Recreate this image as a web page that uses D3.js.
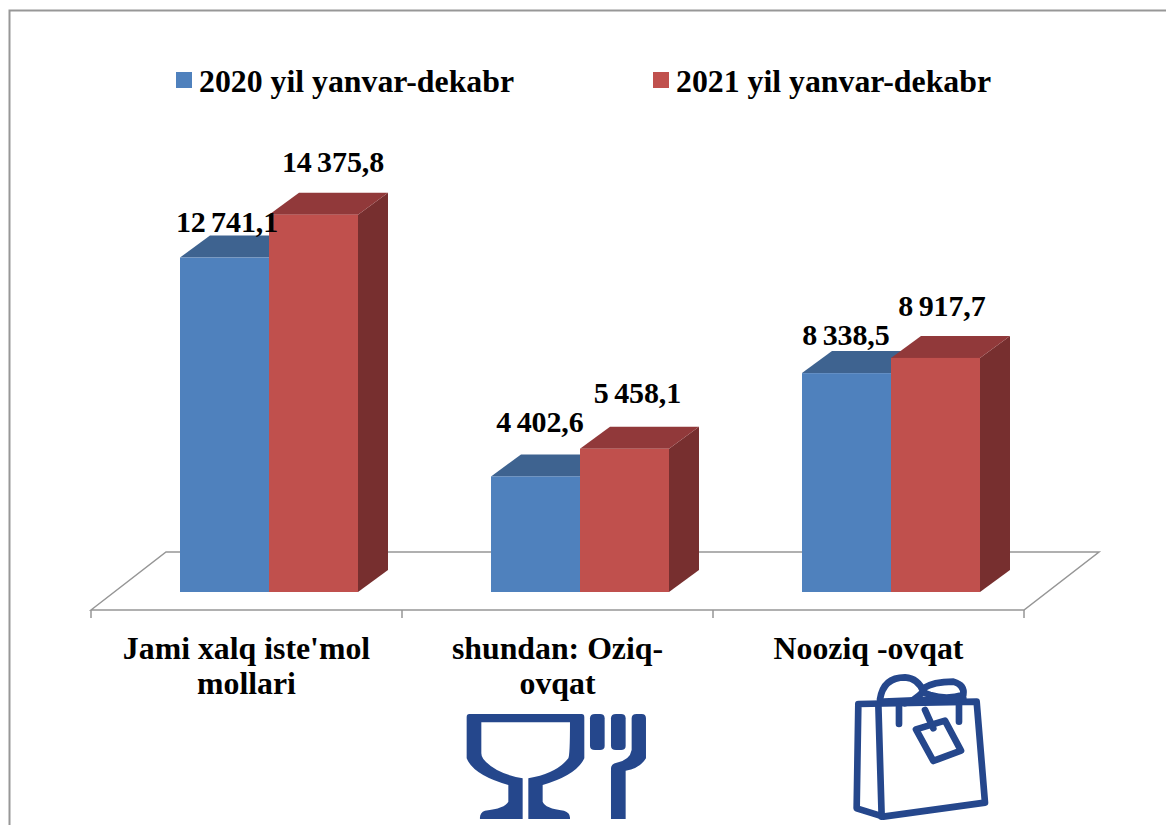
<!DOCTYPE html>
<html>
<head>
<meta charset="utf-8">
<script src="https://cdn.jsdelivr.net/npm/d3@7"></script>
<style>
  html, body { margin: 0; padding: 0; background: #fff; }
  svg { display: block; }
  text { font-family: "Liberation Serif", "Times New Roman", serif; font-weight: bold; fill: #000; }
</style>
</head>
<body>
<div id="chart"></div>
<script>
const categories = ['Jami xalq iste\'mol mollari', 'shundan: Oziq-ovqat', 'Nooziq -ovqat']
const categoryLines = [['Jami xalq iste\'mol', 'mollari'], ['shundan: Oziq-', 'ovqat'], ['Nooziq -ovqat']]
const seriesNames = ['2020 yil yanvar-dekabr', '2021 yil yanvar-dekabr']
const values2020 = [12741.1, 4402.6, 8338.5]
const values2021 = [14375.8, 5458.1, 8917.7]
const labels2020 = ['12 741,1', '4 402,6', '8 338,5']
const labels2021 = ['14 375,8', '5 458,1', '8 917,7']

// hand placed label offsets, relative to the bar top centre
const nudge2020 = [[2.5, -26], [4.5, -44], [-0.5, -28]]
const nudge2021 = [[19.5, -43], [13, -46], [6.5, -42]]

const w = 1166, h = 825
const colors = [
  { front: '#4f81bd', top: '#3e6390', side: '#35557c' },
  { front: '#c0504d', top: '#91393a', side: '#772f2f' }
]
const depthX = 30, depthY = -22
const floorX = 75, floorY = -58
const baseY = 592, floorFront = 610
const labelFont = 31.8, valueFont = 30

const xScale = d3.scaleBand().domain(categories).range([91, 1024])
const barW = 89
// the bars sit on the middle of the floor, not on the front edge
const barShift = 22.5
const yScale = d3.scaleLinear().domain([0, 16000]).range([baseY, baseY - 420])

const series = [
  { name: seriesNames[0], values: values2020, labels: labels2020, nudge: nudge2020, color: colors[0] },
  { name: seriesNames[1], values: values2021, labels: labels2021, nudge: nudge2021, color: colors[1] }
]

const svg = d3.select('#chart').append('svg').attr('width', w).attr('height', h)

// frame
svg.append('path')
  .attr('d', `M9.5 ${h} V10.5 H${w}`)
  .attr('fill', 'none')
  .attr('stroke', '#979797')
  .attr('stroke-width', 2)

// floor
let x0 = xScale.range()[0], x1 = xScale.range()[1]
svg.append('path')
  .attr('d', `M${x0} ${floorFront} L${x0 + floorX} ${floorFront + floorY} H${x1 + floorX} L${x1} ${floorFront} Z`)
  .attr('fill', '#fff')
  .attr('stroke', '#969696')
  .attr('stroke-width', 1.5)

// ticks on the band edges
svg.selectAll('.tick')
  .data(categories.map(c => xScale(c)).concat(x1))
  .enter()
  .append('line')
  .attr('class', 'tick')
  .attr('x1', d => d)
  .attr('x2', d => d)
  .attr('y1', floorFront)
  .attr('y2', floorFront + 8)
  .attr('stroke', '#969696')
  .attr('stroke-width', 1.5)

// bars, blue first so the red front covers its side
const barX = (i, s) => xScale(categories[i]) + xScale.bandwidth() / 2 + barShift - barW + s * barW

series.forEach((s, si) => {
  let g = svg.append('g').attr('class', 'serie')
  let bars = g.selectAll('g').data(s.values).enter().append('g')

  bars.append('path')
    .attr('fill', s.color.side)
    .attr('d', (d, i) => {
      let x = barX(i, si) + barW
      return `M${x} ${yScale(d)} l${depthX} ${depthY} V${baseY + depthY} L${x} ${baseY} Z`
    })
  bars.append('path')
    .attr('fill', s.color.top)
    .attr('d', (d, i) => {
      let x = barX(i, si)
      return `M${x} ${yScale(d)} l${depthX} ${depthY} h${barW} l${-depthX} ${-depthY} Z`
    })
  bars.append('rect')
    .attr('fill', s.color.front)
    .attr('x', (d, i) => barX(i, si))
    .attr('y', d => yScale(d))
    .attr('width', barW)
    .attr('height', d => baseY - yScale(d))
})

// value labels, spaces a little narrower like the original
series.forEach((s, si) => {
  svg.append('g')
    .selectAll('text')
    .data(s.values)
    .enter()
    .append('text')
    .text((d, i) => s.labels[i])
    .attr('x', (d, i) => barX(i, si) + barW / 2 + s.nudge[i][0])
    .attr('y', (d, i) => yScale(d) + s.nudge[i][1])
    .attr('text-anchor', 'middle')
    .style('font-size', valueFont + 'px')
    .style('word-spacing', '-2px')
    .style('letter-spacing', '-0.1px')
})

// category labels
categories.forEach((c, i) => {
  svg.append('text')
    .attr('text-anchor', 'middle')
    .style('font-size', labelFont + 'px')
    .selectAll('tspan')
    .data(categoryLines[i])
    .enter()
    .append('tspan')
    .attr('x', xScale(c) + xScale.bandwidth() / 2)
    .attr('y', (d, k) => 659 + k * 35)
    .text(d => d)
})

// legend
const legendX = [176, 653]
series.forEach((s, i) => {
  svg.append('rect')
    .attr('x', legendX[i])
    .attr('y', 72)
    .attr('width', 16)
    .attr('height', 16)
    .attr('fill', s.color.front)
  svg.append('text')
    .attr('x', legendX[i] + 23)
    .attr('y', 92)
    .style('font-size', labelFont + 'px')
    .text(s.name)
})

// icons
const iconBlue = '#25478c'
const food = svg.append('g').attr('transform', 'translate(440,660) scale(0.3333)').attr('fill', iconBlue)
food.append('path')
  .attr('d', 'M88 162 H425 Q433 162 433 172 V295 Q410 345 308 375 V425 Q315 445 372 452 Q392 458 390 477 H265 V355 Q350 340 385 295 Q390 285 390 187 H124 V280 Q124 290 130 297 Q165 340 248 355 V477 H120 Q118 458 135 452 Q195 445 205 425 V375 Q100 345 80 295 V172 Q80 162 88 162 Z')
food.append('path')
  .attr('d', 'M450 175 Q450 162 465 162 H480 Q494 162 494 175 V258 Q494 270 480 270 H465 Q450 270 450 258 Z')
food.append('path')
  .attr('d', 'M513 175 Q513 162 528 162 H543 Q557 162 557 175 V258 Q557 270 543 270 H528 Q513 270 513 258 Z')
food.append('path')
  .attr('d', 'M513 477 V325 Q513 312 530 308 Q570 300 575 270 V175 Q575 162 590 162 H605 Q618 162 618 175 V295 Q600 325 557 332 V477 Z')

const bag = svg.append('g')
  .attr('transform', 'translate(830,660) scale(0.3333)')
  .attr('fill', 'none')
  .attr('stroke', iconBlue)
  .attr('stroke-width', 20)
  .attr('stroke-linejoin', 'round')
  .attr('stroke-linecap', 'round')
bag.append('path').attr('d', 'M85 132 L440 125 L465 428 L160 470 L80 445 Z')
bag.append('path').attr('d', 'M145 132 L155 470')
bag.append('path').attr('d', 'M150 118 Q160 52 225 52 Q265 55 280 95 Q250 125 225 130')
bag.append('path').attr('d', 'M280 85 Q310 65 370 65 Q405 75 400 105 Q350 120 300 105 Q285 100 280 95')
bag.append('path').attr('d', 'M160 125 L400 115')
bag.append('path').attr('d', 'M207 140 V192 M387 135 V185 M285 150 L310 205')
bag.append('path').attr('d', 'M258 208 L345 182 L393 272 L310 303 Z')
</script>
</body>
</html>
